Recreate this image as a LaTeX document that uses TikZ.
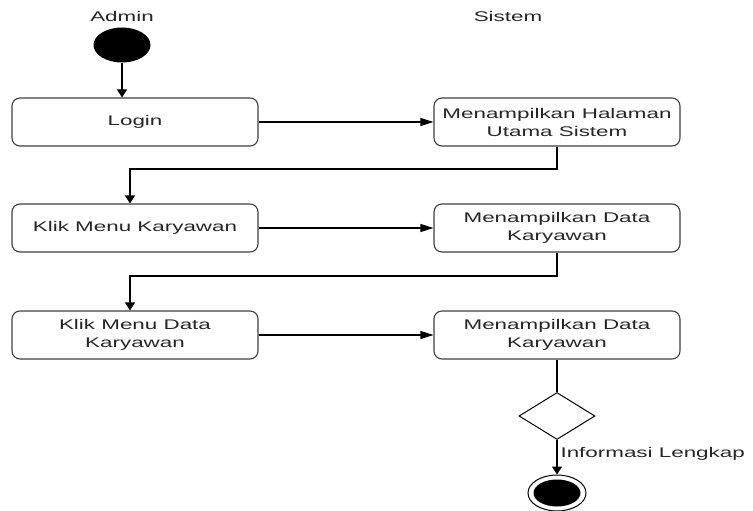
\documentclass[tikz,border=0pt]{standalone}
\usepackage{fontspec}
\setmainfont{Liberation Sans}[FakeStretch=1.6]
\usetikzlibrary{positioning, arrows.meta, shapes.geometric}

\begin{document}
\begin{tikzpicture}[
    x=1pt, y=-1pt,
    every node/.style={font=\fontsize{14}{18}\selectfont, align=center, text=black!85},
    box/.style={
        draw=black!75, rounded corners=8pt, line width=1.1pt, fill=white,
        minimum width=246pt, minimum height=48pt, inner sep=2pt
    },
    varrow/.style={-{Triangle[width=10pt,length=8pt]}, line width=1.1pt},
    harrow/.style={-{Triangle[width=8pt,length=13pt]}, line width=1.1pt},
    link/.style={line width=1.1pt}
]
\useasboundingbox (0,0) rectangle (753,511);

% --- Lane titles ---
\node (admin) at (122,16) {Admin};
\node (sistem) at (508,16) {Sistem};

% --- Start ---
\node[ellipse, fill=black, minimum width=57pt, minimum height=35pt, inner sep=0pt] (start) at (122,45) {};

% --- Left column: actions of the admin ---
\node[box] (login) at (135,122) {Login};
\node[box] (klikmenu) at (135,228) {Klik Menu Karyawan};
\node[box] (klikdata) at (135,335) {Klik Menu Data\\Karyawan};

% --- Right column: responses of the system ---
\node[box] (utama) at (557,122) {Menampilkan Halaman\\Utama Sistem};
\node[box] (datasatu) at (557,228) {Menampilkan Data\\Karyawan};
\node[box] (datadua) at (557,335) {Menampilkan Data\\Karyawan};

% --- Decision and end ---
\node[diamond, draw=black, line width=1pt, aspect=1.6, minimum width=76pt, minimum height=47pt, inner sep=0pt] (cek) at (557,416) {};
\node[ellipse, draw=black, line width=1pt, fill=white, minimum width=58pt, minimum height=36pt, inner sep=0pt] (selesai) at (557,493) {};
\node[ellipse, fill=black, minimum width=47pt, minimum height=27pt, inner sep=0pt] (selesaiin) at (selesai) {};

% --- Connections ---
\draw[varrow] (start) -- (start |- login.north);
\draw[harrow] (login) -- (utama);
\draw[varrow] (utama.south) |- (130,169) -- (klikmenu.north -| 130,0);
\draw[harrow] (klikmenu) -- (datasatu);
\draw[varrow] (datasatu.south) |- (130,276) -- (klikdata.north -| 130,0);
\draw[harrow] (klikdata) -- (datadua);
\draw[link] (datadua) -- (cek);
\draw[varrow] (cek) -- node[right=3pt, pos=0.4, inner sep=0pt] {Informasi Lengkap} (selesai);

\end{tikzpicture}
\end{document}
